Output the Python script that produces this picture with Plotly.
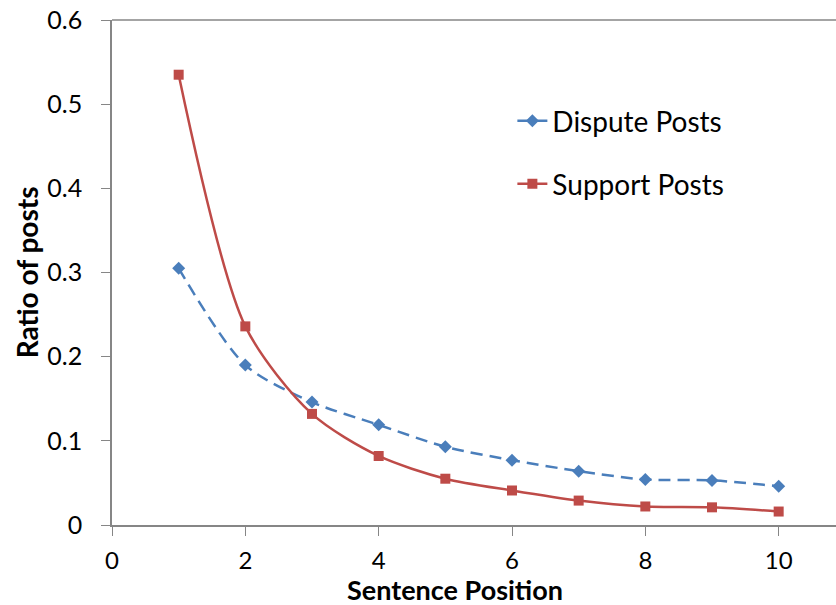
import plotly.graph_objects as go

# Sentence position within a post
positions = [1, 2, 3, 4, 5, 6, 7, 8, 9, 10]

# Ratio of posts per sentence position
dispute_posts = [0.305, 0.190, 0.146, 0.119, 0.093, 0.077, 0.064, 0.054, 0.053, 0.046]
support_posts = [0.535, 0.236, 0.132, 0.082, 0.055, 0.041, 0.029, 0.022, 0.021, 0.016]

x_ticks = [0, 2, 4, 6, 8, 10]
y_ticks = [0, 0.1, 0.2, 0.3, 0.4, 0.5, 0.6]

BLUE = "#4A7EBB"
RED = "#BE4B48"
AXIS = "#868686"
FONT = "Lato, 'Open Sans', sans-serif"

fig = go.Figure()

fig.add_trace(go.Scatter(
    x=positions, y=dispute_posts, name="Dispute Posts",
    mode="lines+markers",
    line=dict(color=BLUE, width=2.5, dash="12px,7px", shape="spline", smoothing=0.8),
    marker=dict(symbol="diamond", size=10, color=BLUE),
    legend="legend",
    showlegend=True,
))

fig.add_trace(go.Scatter(
    x=positions, y=support_posts, name="Support Posts",
    mode="lines+markers",
    line=dict(color=RED, width=2.5, shape="spline", smoothing=0.8),
    marker=dict(symbol="square", size=10, color=RED),
    legend="legend2",
    showlegend=True,
))

legend_style = dict(
    font=dict(family=FONT, size=28, color="#000000"),
    bgcolor="rgba(0,0,0,0)",
    xanchor="left", yanchor="middle",
    itemwidth=30,
    visible=True,
)

fig.update_layout(
    width=836, height=605,
    margin=dict(l=112, r=0, t=20, b=80, autoexpand=False),
    paper_bgcolor="white",
    plot_bgcolor="white",
    showlegend=True,
    font=dict(family=FONT, size=25, color="#000000"),
    legend=dict(x=0.553, y=0.8, **legend_style),
    legend2=dict(x=0.553, y=0.675, **legend_style),
    xaxis=dict(
        range=[0, 10.86],
        tickmode="array", tickvals=x_ticks,
        ticks="outside", ticklen=9, tickcolor=AXIS, tickwidth=1,
        showline=True, linecolor=AXIS, linewidth=1.5,
        showgrid=False, zeroline=False,
        tickfont=dict(size=24),
        ticklabelstandoff=4,
        automargin=False,
    ),
    yaxis=dict(
        range=[0, 0.6],
        tickmode="array", tickvals=y_ticks,
        ticks="outside", ticklen=9, tickcolor=AXIS, tickwidth=1,
        showline=True, linecolor=AXIS, linewidth=1.5,
        showgrid=False, zeroline=False,
        tickfont=dict(size=25),
        ticklabelstandoff=14,
        automargin=False,
    ),
    annotations=[
        dict(text="<b>Sentence Position</b>", xref="paper", yref="paper",
             x=0.474, y=-0.1287, xanchor="center", yanchor="middle",
             showarrow=False, font=dict(size=27)),
        dict(text="<b>Ratio of posts</b>", xref="paper", yref="paper",
             x=-0.117, y=0.501, xanchor="center", yanchor="middle", textangle=-90,
             showarrow=False, font=dict(size=28)),
    ],
    # top border of the plotting area
    shapes=[dict(type="line", xref="paper", yref="paper", x0=0, x1=1, y0=1, y1=1,
                 line=dict(color=AXIS, width=1.5))],
)

fig.write_html("out.html")
